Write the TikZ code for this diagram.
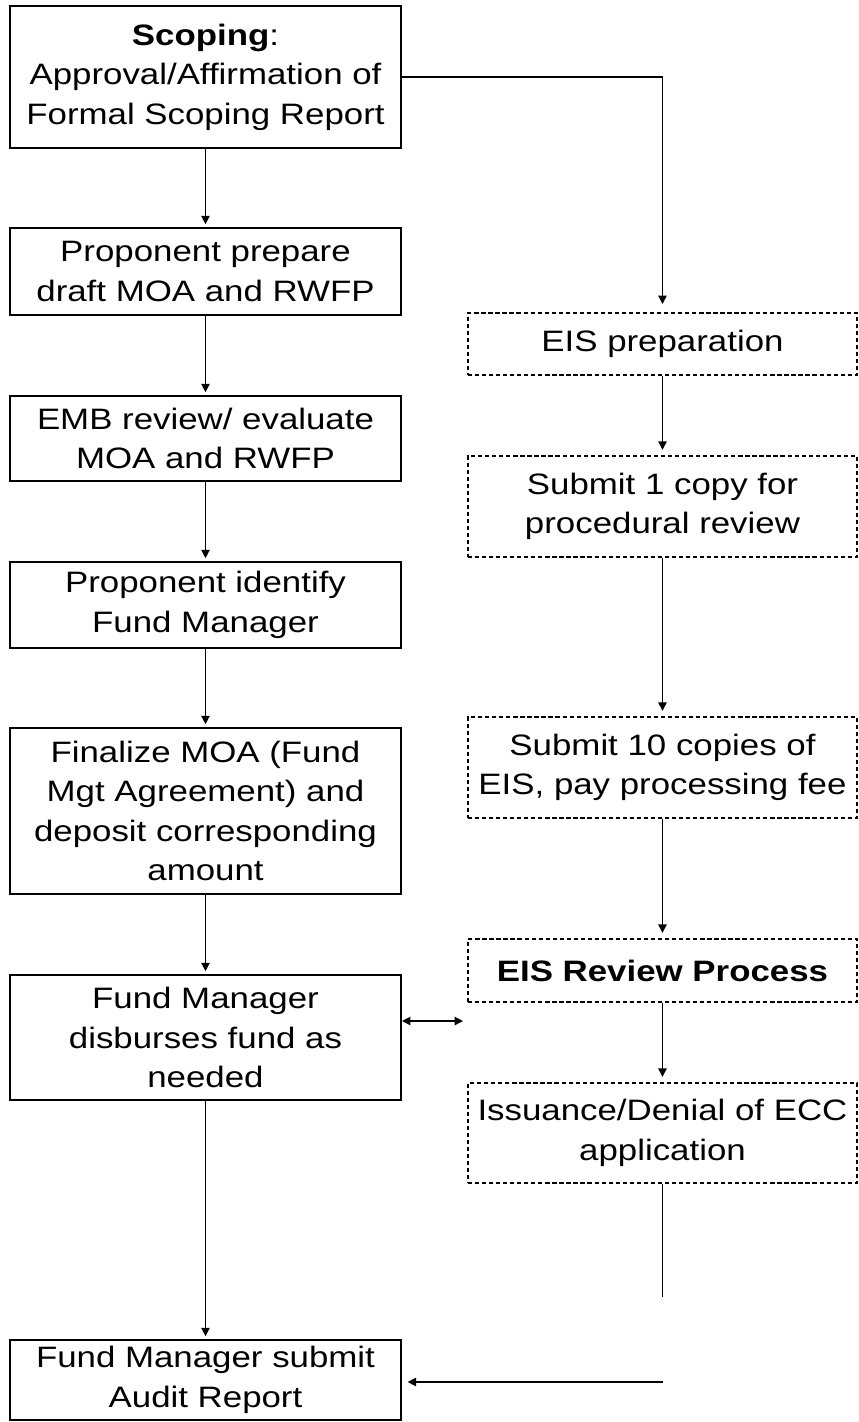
\documentclass[tikz,border=0pt]{standalone}
\usepackage{fontspec}
\setmainfont{Liberation Sans}[FakeStretch=1.18]
\usetikzlibrary{arrows.meta}
\newcommand\boxfont{\fontsize{21}{28}\selectfont}

\begin{document}
\begin{tikzpicture}[x=0.025cm, y=-0.025cm,
    main/.style={draw=black, line width=1.4pt, fill=white, align=center,
                 inner sep=0pt, minimum width=9.775cm, font=\boxfont},
    eis/.style={main, line width=0.8pt, dash pattern=on 3pt off 2pt,
                minimum width=9.725cm},
    arrow/.style={-{Triangle[length=6pt,width=6pt]}, line width=0.9pt, shorten >=2pt},
    link/.style={line width=0.9pt}
  ]
    \useasboundingbox (0,0) rectangle (858,1422);

    % left column
    \node[main, minimum height=3.55cm]  (scoping) at (205.5,77)    {\textbf{Scoping}:\\Approval/Affirmation of\\Formal Scoping Report};
    \node[main, minimum height=2.175cm] (prep)    at (205.5,271.5) {Proponent prepare\\draft MOA and RWFP};
    \node[main, minimum height=2.125cm] (emb)     at (205.5,438.5) {EMB review/ evaluate\\MOA and RWFP};
    \node[main, minimum height=2.15cm]  (ident)   at (205.5,605)   {Proponent identify\\Fund Manager};
    \node[main, minimum height=4.15cm]  (final)   at (205.5,811)   {Finalize MOA (Fund\\Mgt Agreement) and\\deposit corresponding\\amount};
    \node[main, minimum height=3.125cm] (fm)      at (205.5,1037.5){Fund Manager\\disburses fund as\\needed};
    \node[main, minimum height=2.0cm]   (audit)   at (205.5,1380)  {Fund Manager submit\\Audit Report};

    % right column
    \node[eis, minimum height=1.55cm]  (eisprep) at (662.5,344)   {EIS preparation};
    \node[eis, minimum height=2.525cm] (sub1)    at (662.5,506.5) {Submit 1 copy for\\procedural review};
    \node[eis, minimum height=2.525cm] (sub10)   at (662.5,767.5) {Submit 10 copies of\\EIS, pay processing fee};
    \node[eis, minimum height=1.575cm] (review)  at (662.5,970.5) {\textbf{EIS Review Process}};
    \node[eis, minimum height=2.5cm]   (iss)     at (662.5,1133)  {Issuance/Denial of ECC\\application};

    \foreach \a/\b in {scoping/prep, prep/emb, emb/ident, ident/final, final/fm, fm/audit}
      \draw[arrow] (\a.south) -- (\b.north);
    \foreach \a/\b in {eisprep/sub1, sub1/sub10, sub10/review, review/iss}
      \draw[arrow, shorten >=4pt] (\a.south) -- (\b.north);

    \draw[arrow, shorten >=6pt] (scoping.east) -| (eisprep.north);

    \coordinate (fmtip) at (463,1021);
    \draw[arrow, {Triangle[length=6pt,width=6pt]}-{Triangle[length=6pt,width=6pt]}, shorten >=0pt]
      (fm.east |- fmtip) -- (fmtip);

    \coordinate (issend) at (662.5,1297);
    \coordinate (auditin) at (662.5,1382);
    \draw[link] (iss.south) -- (issend);
    \draw[arrow, shorten >=4pt] (auditin) -- (audit.east |- auditin);
  \end{tikzpicture}
\end{document}
